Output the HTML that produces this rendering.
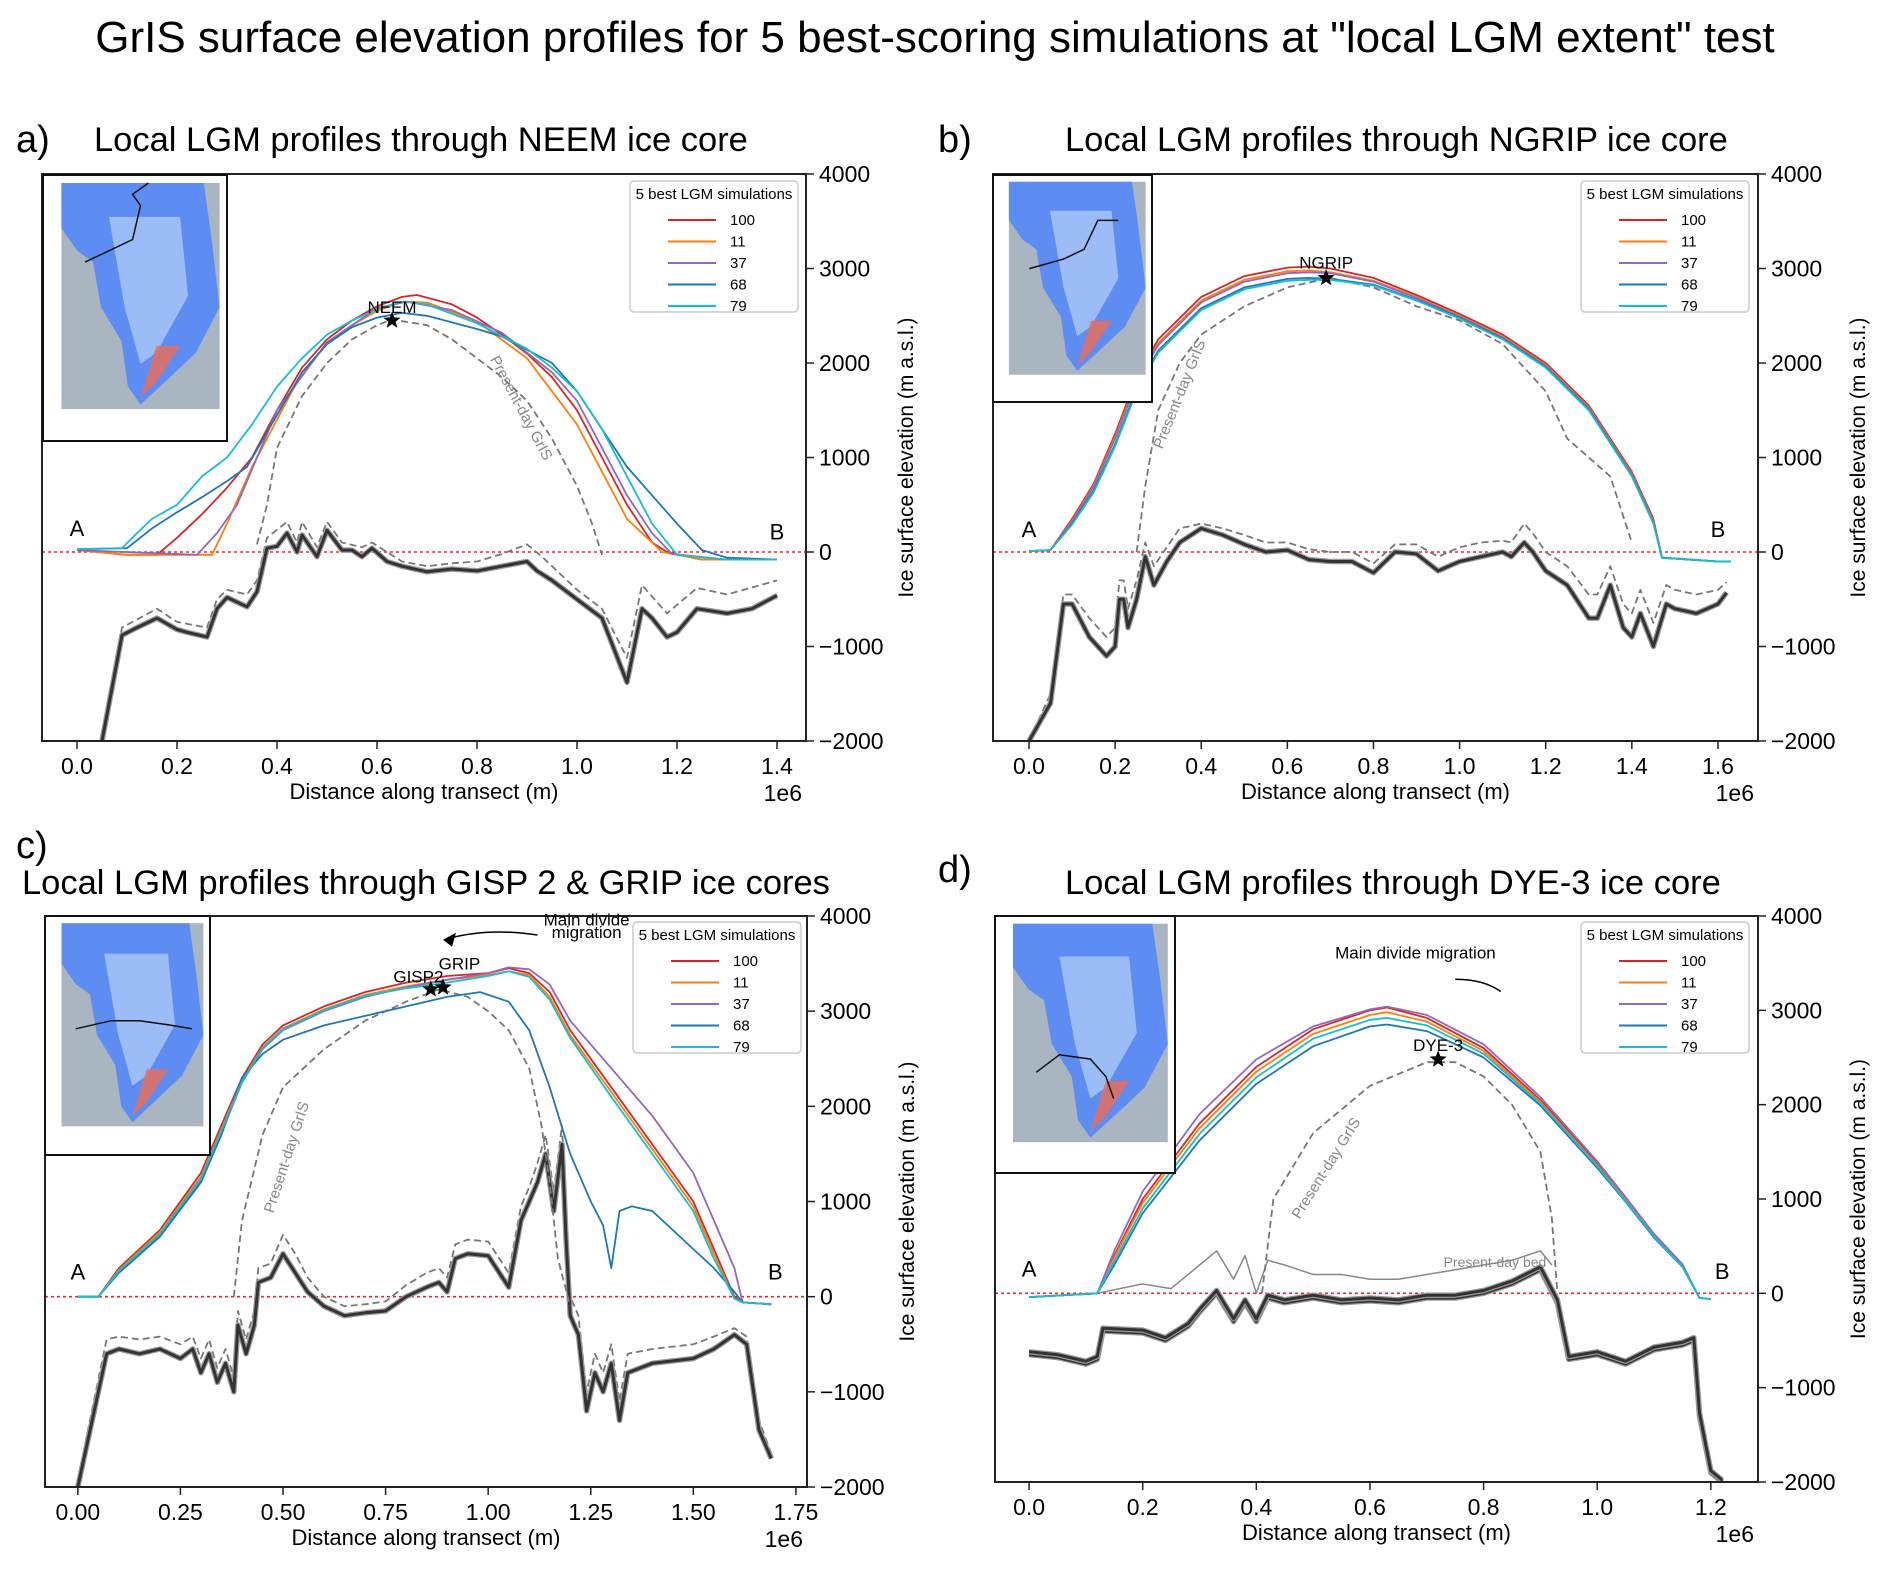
<!DOCTYPE html>
<html><head><meta charset="utf-8">
<style>
html,body{margin:0;padding:0;background:#fff;}
body{width:1892px;height:1569px;overflow:hidden;font-family:"Liberation Sans",sans-serif;}
</style></head>
<body>
<svg id="fig" width="1892" height="1569" xmlns="http://www.w3.org/2000/svg" font-family="Liberation Sans, sans-serif">
<text x="935" y="52" font-size="44" text-anchor="middle">GrIS surface elevation profiles for 5 best-scoring simulations at "local LGM extent" test</text>
</svg>
<script>
// ---------- data ----------
const seriesNames = ["100","11","37","68","79"];
const seriesColors = ["#d62728","#ff7f0e","#9467bd","#1f77b4","#17becf"];
const yTicks = [-2000,-1000,0,1000,2000,3000,4000];
const yTickLabels = ["\u22122000","\u22121000","0","1000","2000","3000","4000"];

// Panel a
const aX_red=[0,0.1,0.16,0.2,0.25,0.3,0.35,0.4,0.45,0.5,0.55,0.6,0.65,0.68,0.75,0.8,0.85,0.9,0.95,1.0,1.05,1.1,1.15,1.18,1.25,1.4];
const aY_red=[20,-30,-30,150,400,680,1000,1500,1950,2250,2450,2600,2700,2720,2620,2480,2300,2100,1850,1500,1000,500,100,0,-80,-80];
const aX_orange=[0,0.1,0.27,0.3,0.35,0.4,0.45,0.5,0.55,0.6,0.65,0.7,0.8,0.9,1.0,1.05,1.1,1.17,1.25,1.4];
const aY_orange=[20,-30,-30,300,900,1400,1900,2200,2400,2550,2650,2640,2440,2050,1350,850,350,0,-80,-80];
const aX_purple=[0,0.24,0.28,0.32,0.36,0.4,0.5,0.6,0.66,0.75,0.85,0.95,1.0,1.05,1.1,1.15,1.19,1.3,1.4];
const aY_purple=[20,-30,200,500,1000,1500,2220,2580,2650,2560,2320,1900,1600,1100,600,200,-20,-80,-80];
const aX_blue=[0,0.1,0.15,0.2,0.25,0.3,0.34,0.4,0.45,0.5,0.55,0.6,0.65,0.7,0.8,0.85,0.95,1.0,1.05,1.1,1.15,1.2,1.25,1.3,1.4];
const aY_blue=[30,40,250,420,580,750,900,1450,1900,2200,2380,2480,2530,2500,2360,2280,2000,1700,1300,900,600,300,20,-60,-80];
const aX_cyan=[0,0.09,0.12,0.15,0.2,0.25,0.3,0.35,0.4,0.45,0.5,0.55,0.6,0.65,0.7,0.8,0.9,0.95,1.0,1.05,1.1,1.15,1.2,1.3,1.4];
const aY_cyan=[30,40,200,350,500,800,1000,1350,1750,2050,2300,2450,2570,2650,2620,2420,2150,1950,1700,1300,800,300,-30,-80,-80];
const aX_pd=[0.36,0.38,0.4,0.45,0.5,0.55,0.6,0.63,0.7,0.75,0.8,0.85,0.9,0.95,1.0,1.03,1.05];
const aY_pd=[80,500,1100,1650,2000,2250,2400,2460,2400,2250,2050,1850,1600,1200,700,300,-30];
const aX_bed=[0.05,0.09,0.12,0.16,0.2,0.22,0.26,0.28,0.3,0.34,0.36,0.38,0.4,0.42,0.44,0.45,0.48,0.5,0.53,0.55,0.57,0.59,0.62,0.65,0.7,0.75,0.8,0.85,0.9,0.92,0.95,1.0,1.05,1.1,1.13,1.15,1.18,1.2,1.24,1.3,1.35,1.4];
const aY_bed=[-2000,-880,-800,-700,-820,-850,-900,-600,-480,-580,-420,40,60,200,0,180,-50,230,20,20,-50,40,-100,-150,-210,-180,-200,-150,-100,-200,-300,-500,-700,-1380,-600,-700,-900,-850,-600,-650,-600,-460];
const aX_pdbed=[0.05,0.09,0.16,0.2,0.26,0.28,0.3,0.34,0.36,0.38,0.42,0.44,0.45,0.48,0.5,0.53,0.57,0.59,0.65,0.7,0.75,0.8,0.85,0.9,0.93,1.0,1.05,1.1,1.13,1.18,1.24,1.3,1.4];
const aY_pdbed=[-2000,-800,-600,-740,-800,-500,-400,-450,-300,150,320,100,320,50,320,100,50,100,-100,-150,-120,-100,-20,80,-50,-400,-600,-1120,-350,-650,-380,-450,-300];

// Panel b
const bX_sim=[0,0.05,0.1,0.15,0.2,0.25,0.3,0.4,0.5,0.6,0.65,0.7,0.8,0.9,1.0,1.1,1.2,1.3,1.4,1.45,1.47,1.6,1.63];
const bY_red=[10,20,350,720,1250,1850,2250,2700,2920,3010,3020,3000,2900,2720,2520,2300,2000,1550,850,350,-60,-100,-100];
const bY_orange=[10,20,330,700,1220,1810,2210,2660,2880,2970,2980,2960,2870,2700,2500,2280,1980,1530,830,330,-60,-100,-100];
const bY_purple=[10,20,320,690,1200,1790,2190,2640,2860,2950,2960,2950,2860,2690,2490,2270,1970,1520,820,320,-60,-100,-100];
const bY_blue=[10,20,300,650,1140,1730,2130,2580,2800,2890,2900,2890,2830,2670,2480,2260,1960,1510,810,310,-60,-100,-100];
const bY_cyan=[10,20,290,630,1120,1700,2110,2560,2780,2870,2880,2880,2820,2660,2470,2250,1950,1500,800,300,-60,-100,-100];
const bX_pd=[0.25,0.27,0.3,0.35,0.4,0.5,0.6,0.7,0.8,0.9,1.0,1.1,1.2,1.25,1.3,1.35,1.4];
const bY_pd=[0,700,1500,2000,2300,2600,2800,2900,2800,2600,2450,2200,1700,1200,1000,800,100];
const bX_bed=[0,0.05,0.08,0.1,0.14,0.18,0.2,0.21,0.22,0.23,0.25,0.27,0.29,0.32,0.35,0.4,0.45,0.5,0.55,0.6,0.65,0.7,0.75,0.8,0.85,0.9,0.95,1.0,1.05,1.1,1.12,1.15,1.17,1.2,1.25,1.3,1.32,1.35,1.38,1.4,1.42,1.45,1.48,1.5,1.55,1.6,1.62];
const bY_bed=[-2000,-1600,-550,-550,-900,-1100,-1000,-500,-500,-800,-500,-50,-350,-100,100,250,180,80,0,20,-80,-100,-100,-220,0,-20,-200,-100,-50,0,-50,100,0,-200,-350,-700,-700,-350,-800,-900,-650,-1000,-550,-600,-650,-550,-430];
const bY_pdbed=[-2000,-1500,-450,-450,-700,-900,-800,-300,-300,-600,-300,100,-150,50,250,300,250,180,100,100,30,0,0,-120,80,80,-50,50,100,120,100,300,200,0,-150,-450,-450,-150,-550,-650,-400,-750,-350,-400,-450,-400,-320];

// Panel c
const cX_sim=[0,0.05,0.1,0.2,0.3,0.35,0.4,0.45,0.5,0.6,0.7,0.8,0.9,1.0,1.05,1.1,1.15,1.2,1.3,1.4,1.5,1.55,1.6,1.62,1.69];
const cY_red=[0,0,300,700,1300,1800,2300,2650,2850,3050,3200,3300,3370,3400,3450,3400,3200,2800,2200,1600,1000,500,0,-60,-80];
const cY_orange=[0,0,280,680,1260,1760,2270,2620,2820,3020,3170,3260,3330,3380,3420,3380,3150,2750,2150,1550,950,450,-20,-60,-80];
const cY_purple=[0,0,260,650,1220,1720,2250,2600,2800,3000,3150,3250,3330,3400,3460,3440,3280,2900,2400,1900,1300,800,300,-60,-80];
const cY_cyan=[0,0,270,660,1240,1740,2260,2610,2810,3010,3160,3240,3300,3370,3420,3360,3120,2720,2100,1500,900,400,-20,-60,-80];
const cX_blue=[0,0.05,0.1,0.2,0.3,0.35,0.4,0.45,0.5,0.6,0.7,0.8,0.9,0.98,1.05,1.1,1.15,1.2,1.25,1.28,1.3,1.32,1.35,1.4,1.45,1.5,1.55,1.6,1.62,1.69];
const cY_blue=[0,0,250,630,1200,1700,2300,2550,2700,2850,2950,3050,3150,3200,3100,2800,2200,1500,1000,750,300,900,950,900,700,500,300,50,-60,-80];
const cX_pd=[0.38,0.4,0.45,0.5,0.6,0.7,0.8,0.88,0.95,1.0,1.05,1.1,1.13,1.15,1.17,1.2];
const cY_pd=[0,800,1700,2200,2600,2900,3100,3230,3150,3000,2800,2400,1800,1200,400,-100];
const cX_bed=[0,0.02,0.07,0.1,0.15,0.2,0.25,0.28,0.3,0.32,0.34,0.36,0.38,0.39,0.41,0.43,0.44,0.47,0.5,0.53,0.56,0.6,0.65,0.7,0.75,0.8,0.85,0.88,0.9,0.92,0.95,1.0,1.05,1.08,1.1,1.12,1.14,1.16,1.18,1.19,1.2,1.22,1.24,1.26,1.28,1.3,1.32,1.34,1.4,1.5,1.55,1.6,1.63,1.66,1.69];
const cY_bed=[-2000,-1600,-600,-550,-600,-550,-650,-550,-800,-600,-900,-700,-1000,-300,-600,-300,150,200,450,250,50,-100,-200,-170,-150,0,100,150,50,400,450,430,100,800,1000,1200,1500,900,1600,600,-200,-400,-1200,-800,-1000,-700,-1300,-800,-700,-650,-550,-400,-500,-1400,-1700];
const cY_pdbed=[-2000,-1500,-450,-420,-450,-420,-500,-420,-650,-450,-750,-550,-850,-150,-450,-150,300,350,650,450,200,0,-100,-80,-50,120,250,300,200,550,600,580,250,950,1150,1400,1700,1100,1800,800,0,-200,-1000,-600,-800,-500,-1100,-600,-550,-500,-420,-330,-420,-1300,-1650];

// Panel d
const dX_sim=[0,0.12,0.15,0.2,0.3,0.4,0.5,0.6,0.63,0.7,0.8,0.9,1.0,1.05,1.1,1.15,1.18,1.2];
const dY_red=[-40,0,400,1000,1800,2400,2800,3000,3030,2920,2600,2050,1380,1000,620,300,-50,-60];
const dY_orange=[-40,0,380,960,1750,2350,2750,2950,2980,2880,2570,2030,1360,990,610,290,-50,-60];
const dY_purple=[-40,0,450,1080,1900,2480,2830,3010,3040,2950,2640,2080,1400,1020,630,310,-50,-60];
const dY_blue=[-40,0,300,850,1620,2220,2620,2830,2850,2780,2500,1990,1330,970,590,280,-50,-60];
const dY_cyan=[-40,0,340,900,1690,2290,2700,2900,2920,2840,2540,2010,1350,980,600,285,-50,-60];
const dX_pd=[0.41,0.43,0.5,0.6,0.7,0.75,0.8,0.85,0.9,0.92,0.93];
const dY_pd=[0,1000,1700,2200,2450,2450,2300,2000,1500,800,0];
const dX_pdbed=[0.12,0.2,0.25,0.3,0.33,0.36,0.38,0.4,0.42,0.45,0.5,0.55,0.6,0.65,0.7,0.75,0.8,0.85,0.9,0.92];
const dY_pdbed=[0,100,50,300,450,150,400,0,350,300,200,200,150,150,200,250,300,350,450,300];
const dX_bed=[0,0.05,0.1,0.12,0.13,0.2,0.24,0.28,0.3,0.33,0.36,0.38,0.4,0.42,0.45,0.5,0.55,0.6,0.65,0.7,0.75,0.8,0.85,0.9,0.93,0.95,1.0,1.05,1.1,1.15,1.17,1.18,1.2,1.22];
const dY_bed=[-650,-680,-750,-700,-400,-420,-500,-350,-200,0,-300,-100,-300,-50,-100,-50,-100,-80,-100,-50,-50,0,100,250,-100,-700,-650,-750,-600,-550,-500,-1300,-1900,-2000];
const dY_bed2=[-620,-650,-720,-670,-370,-390,-470,-320,-170,30,-270,-70,-270,-20,-70,-20,-70,-50,-70,-20,-20,30,130,280,-70,-670,-620,-720,-570,-520,-470,-1270,-1880,-1980];

// ---------- drawing ----------
const svg=document.getElementById('fig');
const NS="http://www.w3.org/2000/svg";
function mk(tag,attrs,parent){const e=document.createElementNS(NS,tag);for(const k in attrs)e.setAttribute(k,attrs[k]);(parent||svg).appendChild(e);return e;}

function panel(P){
  const g=mk('g',{});
  
  
  const sx=v=>P.L+(v-P.xmin)/(P.xmax-P.xmin)*(P.R-P.L);
  const sy=v=>P.B-(v+2000)/6000*(P.B-P.T);
  P.sx=sx;P.sy=sy;P.g=g;
  const cid='clip'+P.id;
  const cp=mk('clipPath',{id:cid},g);mk('rect',{x:P.L,y:P.T,width:P.R-P.L,height:P.B-P.T},cp);
  const plot=mk('g',{'clip-path':'url(#'+cid+')'},g);
  const z=mk('line',{x1:P.L,x2:P.R,y1:sy(0),y2:sy(0),stroke:'#ff2020','stroke-width':1.6,'stroke-dasharray':'3,3'},plot);
  
  
  const line=(xs,ys,stroke,w,dash,name)=>{
    let d='';xs.forEach((x,i)=>{d+=(i?'L':'M')+sx(x).toFixed(1)+','+sy(ys[i]).toFixed(1);});
    const p=mk('path',{d:d,fill:'none',stroke:stroke,'stroke-width':w,'stroke-linejoin':'round'},plot);
    if(dash)p.setAttribute('stroke-dasharray',dash);
    
    
    return p;
  };
  P.pdbed&&line(P.pdbed[0],P.pdbed[1],P.pdbedSolid?'#888':'#777',P.pdbedSolid?1.5:1.8,P.pdbedSolid?null:'7,4','present-day-bed');
  P.beds.forEach((b,i)=>{line(b[0],b[1],'#999',5.5,null,'bed-outline-'+i);line(b[0],b[1],'#333',3,null,'bed-'+i);});
  line(P.pd[0],P.pd[1],'#777',1.8,'7,4','present-day-surface');
  P.sims.forEach((s,i)=>line(s[0],s[1],seriesColors[i],1.8,null,'sim-'+seriesNames[i]));
  const fr=mk('rect',{x:P.L,y:P.T,width:P.R-P.L,height:P.B-P.T,fill:'none',stroke:'#222','stroke-width':2},g);
  
  
  yTicks.forEach((v,i)=>{
    mk('line',{x1:P.R,x2:P.R+8,y1:sy(v),y2:sy(v),stroke:'#222','stroke-width':1.5},g);
    const t=mk('text',{x:P.R+13,y:sy(v)+8,'font-size':23},g);t.textContent=yTickLabels[i];
    
    
  });
  P.xticks.forEach((v,i)=>{
    mk('line',{x1:sx(v),x2:sx(v),y1:P.B,y2:P.B+8,stroke:'#222','stroke-width':1.5},g);
    const t=mk('text',{x:sx(v),y:P.B+33,'font-size':23,'text-anchor':'middle'},g);t.textContent=P.xlabels[i];
    
    
  });
  let t=mk('text',{x:P.R-4,y:P.B+60,'font-size':23,'text-anchor':'end'},g);t.textContent='1e6';
  
  
  t=mk('text',{x:(P.L+P.R)/2,y:P.B+58,'font-size':22,'text-anchor':'middle'},g);t.textContent='Distance along transect (m)';
  
  
  const yl=P.R+107, ym=(P.T+P.B)/2;
  t=mk('text',{x:yl,y:ym,'font-size':21,'text-anchor':'middle',transform:'rotate(-90 '+yl+' '+ym+')'},g);t.textContent='Ice surface elevation (m a.s.l.)';
  
  
  t=mk('text',{x:P.labX,y:P.labY,'font-size':38},g);t.textContent=P.id+')';
  
  
  t=mk('text',{x:P.titX,y:P.titY,'font-size':34.5},g);t.textContent=P.title;
  
  
  t=mk('text',{x:sx(P.A[0]),y:sy(P.A[1]),'font-size':22,'text-anchor':'middle'},g);t.textContent='A';
  
  
  t=mk('text',{x:sx(P.Bp[0]),y:sy(P.Bp[1]),'font-size':22,'text-anchor':'middle'},g);t.textContent='B';
  
  
  const lg=mk('g',{},g);
  
  
  mk('rect',{x:P.lx,y:P.ly,width:168,height:131,rx:4,fill:'#fff',stroke:'#ccc','stroke-width':1.5},lg);
  t=mk('text',{x:P.lx+84,y:P.ly+18,'font-size':15,'text-anchor':'middle'},lg);t.textContent='5 best LGM simulations';
  seriesNames.forEach((n,i)=>{
    const yy=P.ly+39+i*21.5;
    const e=mk('g',{},lg);
    
    
    mk('line',{x1:P.lx+38,x2:P.lx+86,y1:yy,y2:yy,stroke:seriesColors[i],'stroke-width':2},e);
    const tt=mk('text',{x:P.lx+100,y:yy+5,'font-size':15},e);tt.textContent=n;
  });
  const m=P.map, ig=mk('g',{},g);
  
  
  mk('rect',{x:m[0],y:m[1],width:m[2],height:m[3],fill:'#fff',stroke:'#111','stroke-width':2},ig);
  const ix=m[0]+m[2]*0.1, iy=m[1]+m[3]*0.03, iw=m[2]*0.86, ih=m[3]*0.85;
  mk('rect',{x:ix,y:iy,width:iw,height:ih,fill:'#a9b6c2'},ig);
  const px=(u,v)=>(ix+u*iw).toFixed(1)+','+(iy+v*ih).toFixed(1);
  const shape=[[0,0],[0.9,0],[0.95,0.25],[1,0.55],[0.85,0.75],[0.7,0.85],[0.5,0.98],[0.42,0.9],[0.38,0.7],[0.25,0.55],[0.2,0.35],[0.1,0.3],[0,0.2]];
  mk('polygon',{points:shape.map(p=>px(p[0],p[1])).join(' '),fill:'#5d8df2'},ig);
  const inner=[[0.3,0.15],[0.75,0.15],[0.8,0.5],[0.6,0.75],[0.5,0.8],[0.4,0.55]];
  mk('polygon',{points:inner.map(p=>px(p[0],p[1])).join(' '),fill:'#9bbcf7'},ig);
  mk('polygon',{points:[[0.6,0.72],[0.75,0.72],[0.6,0.88],[0.5,0.95]].map(p=>px(p[0],p[1])).join(' '),fill:'#ef6b55',opacity:0.8},ig);
  mk('polyline',{points:P.mapLine.map(p=>px(p[0],p[1])).join(' '),fill:'none',stroke:'#111','stroke-width':1.5},ig);
  return P;
}
function star(P,x,y,name){
  const cx=P.sx(x),cy=P.sy(y),r=9,r2=3.8;let pts=[];
  for(let i=0;i<10;i++){const a=-Math.PI/2+i*Math.PI/5,rr=i%2?r2:r;pts.push((cx+rr*Math.cos(a)).toFixed(1)+','+(cy+rr*Math.sin(a)).toFixed(1));}
  const s=mk('polygon',{points:pts.join(' '),fill:'#000'},P.g);
  
  
}
function label(P,x,y,txt,size,name,extra){
  const t=mk('text',Object.assign({x:P.sx(x),y:P.sy(y),'font-size':size,'text-anchor':'middle'},extra||{}),P.g);t.textContent=txt;
  
  
  return t;
}
function rlabel(P,x,y,txt,ang,name){
  const X=P.sx(x),Y=P.sy(y);
  const t=mk('text',{x:X,y:Y,'font-size':15,fill:'#888','text-anchor':'middle',transform:'rotate('+ang+' '+X+' '+Y+')'},P.g);t.textContent=txt;
  
  
}

const pa=panel({id:'a',L:42,R:806,T:174,B:741,xmin:-0.07,xmax:1.458,
  xticks:[0,0.2,0.4,0.6,0.8,1.0,1.2,1.4],xlabels:['0.0','0.2','0.4','0.6','0.8','1.0','1.2','1.4'],
  sims:[[aX_red,aY_red],[aX_orange,aY_orange],[aX_purple,aY_purple],[aX_blue,aY_blue],[aX_cyan,aY_cyan]],
  pd:[aX_pd,aY_pd],beds:[[aX_bed,aY_bed]],pdbed:[aX_pdbed,aY_pdbed],
  labX:16,labY:152,titX:94,titY:151,title:'Local LGM profiles through NEEM ice core',
  A:[0,170],Bp:[1.4,130],lx:630,ly:181,map:[43,175,184,266],mapLine:[[0.15,0.35],[0.3,0.3],[0.45,0.25],[0.5,0.1],[0.45,0.05],[0.55,0.0]]});
star(pa,0.63,2450,'neem-star');label(pa,0.63,2530,'NEEM',17,'neem-label');
rlabel(pa,0.88,1500,'Present-day GrIS',62,'present-day-label');

const pb=panel({id:'b',L:993,R:1758,T:174,B:741,xmin:-0.0836,xmax:1.693,
  xticks:[0,0.2,0.4,0.6,0.8,1.0,1.2,1.4,1.6],xlabels:['0.0','0.2','0.4','0.6','0.8','1.0','1.2','1.4','1.6'],
  sims:[[bX_sim,bY_red],[bX_sim,bY_orange],[bX_sim,bY_purple],[bX_sim,bY_blue],[bX_sim,bY_cyan]],
  pd:[bX_pd,bY_pd],beds:[[bX_bed,bY_bed]],pdbed:[bX_bed,bY_pdbed],
  labX:938,labY:152,titX:1065,titY:151,title:'Local LGM profiles through NGRIP ice core',
  A:[0,160],Bp:[1.6,160],lx:1581,ly:181,map:[993,175,159,227],mapLine:[[0.15,0.45],[0.4,0.4],[0.55,0.35],[0.65,0.2],[0.8,0.2]]});
star(pb,0.69,2900,'ngrip-star');label(pb,0.69,3000,'NGRIP',17,'ngrip-label');
rlabel(pb,0.36,1650,'Present-day GrIS',-68,'present-day-label');

const pc=panel({id:'c',L:45,R:807,T:916,B:1487,xmin:-0.08,xmax:1.777,
  xticks:[0,0.25,0.5,0.75,1.0,1.25,1.5,1.75],xlabels:['0.00','0.25','0.50','0.75','1.00','1.25','1.50','1.75'],
  sims:[[cX_sim,cY_red],[cX_sim,cY_orange],[cX_sim,cY_purple],[cX_blue,cY_blue],[cX_sim,cY_cyan]],
  pd:[cX_pd,cY_pd],beds:[[cX_bed,cY_bed]],pdbed:[cX_bed,cY_pdbed],
  labX:16,labY:858,titX:22,titY:894,title:'Local LGM profiles through GISP 2 & GRIP ice cores',
  A:[0,180],Bp:[1.70,180],lx:633,ly:922,map:[45,916,165,239],mapLine:[[0.1,0.52],[0.35,0.48],[0.55,0.48],[0.75,0.5],[0.92,0.52]]});
star(pc,0.86,3230,'gisp2-star');star(pc,0.89,3250,'grip-star');
label(pc,0.83,3300,'GISP2',17,'gisp2-label');label(pc,0.93,3440,'GRIP',17,'grip-label');
label(pc,1.24,3900,'Main divide',17,'divide-label-1');label(pc,1.24,3770,'migration',17,'divide-label-2');
(function(){const p=mk('path',{d:'M'+pc.sx(1.12)+','+pc.sy(3800)+' Q'+pc.sx(1.0)+','+pc.sy(3880)+' '+pc.sx(0.9)+','+pc.sy(3760),fill:'none',stroke:'#000','stroke-width':1.5},pc.g);

const h=mk('polygon',{points:(pc.sx(0.89))+','+pc.sy(3750)+' '+(pc.sx(0.89)+13)+','+(pc.sy(3750)-7)+' '+(pc.sx(0.89)+9)+','+(pc.sy(3750)+7),fill:'#000'},pc.g);
})();
rlabel(pc,0.52,1450,'Present-day GrIS',-72,'present-day-label');

const pd=panel({id:'d',L:995,R:1758,T:916,B:1482,xmin:-0.06,xmax:1.283,
  xticks:[0,0.2,0.4,0.6,0.8,1.0,1.2],xlabels:['0.0','0.2','0.4','0.6','0.8','1.0','1.2'],
  sims:[[dX_sim,dY_red],[dX_sim,dY_orange],[dX_sim,dY_purple],[dX_sim,dY_blue],[dX_sim,dY_cyan]],
  pd:[dX_pd,dY_pd],beds:[[dX_bed,dY_bed],[dX_bed,dY_bed2]],pdbed:[dX_pdbed,dY_pdbed],pdbedSolid:true,
  labX:938,labY:882,titX:1065,titY:894,title:'Local LGM profiles through DYE-3 ice core',
  A:[0,180],Bp:[1.22,150],lx:1581,ly:922,map:[995,916,180,257],mapLine:[[0.15,0.68],[0.3,0.6],[0.5,0.62],[0.6,0.7],[0.65,0.8]]});
star(pd,0.72,2480,'dye3-star');label(pd,0.72,2570,'DYE-3',17,'dye3-label');
label(pd,0.68,3550,'Main divide migration',17,'divide-label');
label(pd,0.82,280,'Present-day bed',14,'present-day-bed-label',{fill:'#888'});
(function(){const p=mk('path',{d:'M'+pd.sx(0.75)+','+pd.sy(3330)+' Q'+pd.sx(0.8)+','+pd.sy(3330)+' '+pd.sx(0.83)+','+pd.sy(3200),fill:'none',stroke:'#000','stroke-width':1.5},pd.g);
})();
rlabel(pd,0.53,1300,'Present-day GrIS',-58,'present-day-label');
</script>
</body></html>
